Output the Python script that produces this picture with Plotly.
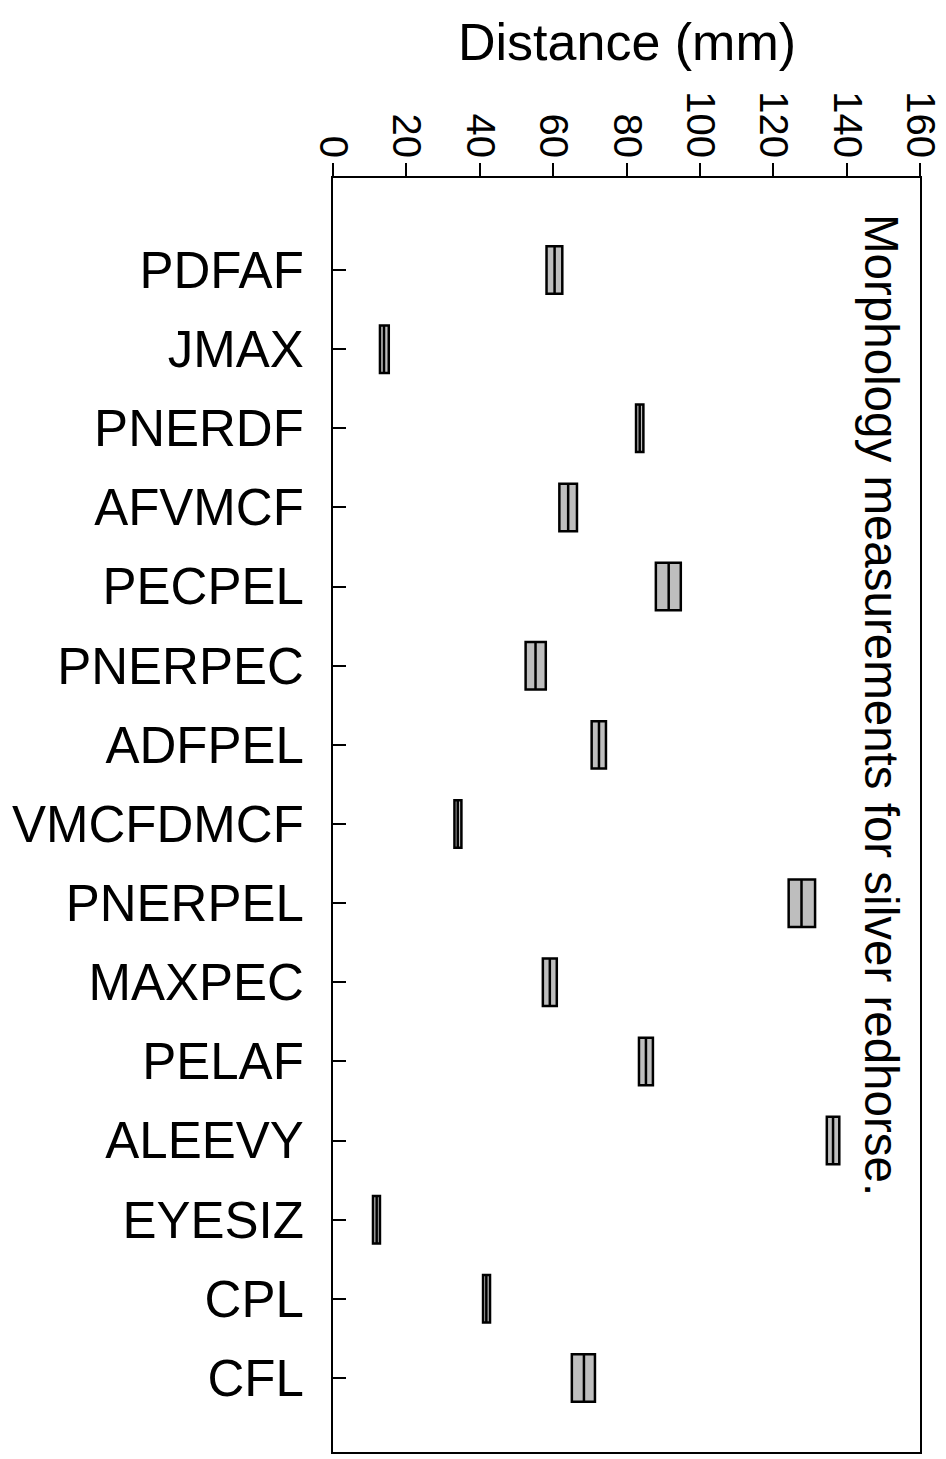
import plotly.graph_objects as go

categories = ["PDFAF", "JMAX", "PNERDF", "AFVMCF", "PECPEL", "PNERPEC", "ADFPEL",
              "VMCFDMCF", "PNERPEL", "MAXPEC", "PELAF", "ALEEVY", "EYESIZ", "CPL", "CFL"]
q1 = [58.2, 12.8, 82.6, 61.7, 88.0, 52.5, 70.5, 33.1, 124.2, 57.2, 83.4, 134.6, 10.9, 40.9, 65.1]
median = [60.4, 13.9, 83.6, 64.1, 91.5, 55.2, 72.5, 34.0, 127.7, 59.1, 85.3, 136.3, 11.9, 41.8, 68.4]
q3 = [62.5, 15.2, 84.6, 66.5, 94.8, 58.0, 74.4, 35.0, 131.4, 61.0, 87.2, 138.0, 12.8, 42.8, 71.4]
x_ticks = [0, 20, 40, 60, 80, 100, 120, 140, 160]

FONT = "Liberation Sans, Arial, sans-serif"

fig = go.Figure()
fig.add_trace(go.Box(
    y=categories, q1=q1, median=median, q3=q3,
    lowerfence=q1, upperfence=q3,
    orientation="h",
    fillcolor="#BEBEBE",
    line=dict(color="black", width=2.5),
    whiskerwidth=0,
    boxpoints=False,
    width=0.6,
    showlegend=False,
    hoverinfo="skip",
))

# page body has an 8px margin, so the figure is a bit smaller and shifted
fig.update_layout(
    width=938, height=1451,
    margin=dict(l=325, r=26, t=170, b=7),
    paper_bgcolor="white", plot_bgcolor="white",
    font=dict(family=FONT, color="black"),
    showlegend=False,
)

fig.update_xaxes(
    side="top", range=[0, 160], tickvals=x_ticks,
    ticktext=[str(v) for v in x_ticks],
    tickangle=90, ticks="outside", ticklen=13, tickwidth=2, tickcolor="black",
    tickfont=dict(size=40, family=FONT, color="black"),
    ticklabelstandoff=-9,
    showline=True, linewidth=2, linecolor="black", mirror=True,
    showgrid=False, zeroline=False, automargin=False,
)
fig.update_yaxes(
    type="category", categoryorder="array", categoryarray=categories,
    range=[14.935, -1.163],
    ticks="inside", ticklen=13, tickwidth=2, tickcolor="black",
    tickfont=dict(size=51, family=FONT, color="black"),
    ticklabelstandoff=17,
    showline=True, linewidth=2, linecolor="black", mirror=True,
    showgrid=False, zeroline=False, automargin=False,
)

fig.add_annotation(
    text="Distance (mm)", xref="paper", yref="paper",
    x=0.5, y=1 + (178 - 42) / 1274, xanchor="center", yanchor="middle",
    showarrow=False, font=dict(size=52, family=FONT, color="black"),
)
fig.add_annotation(
    text="Morphology measurements for silver redhorse.", xref="paper", yref="paper",
    x=(882 - 333) / 587, y=1 - (705 - 178) / 1274, xanchor="center", yanchor="middle",
    textangle=90, showarrow=False, font=dict(size=47.5, family=FONT, color="black"),
)

fig.write_html("out.html")
